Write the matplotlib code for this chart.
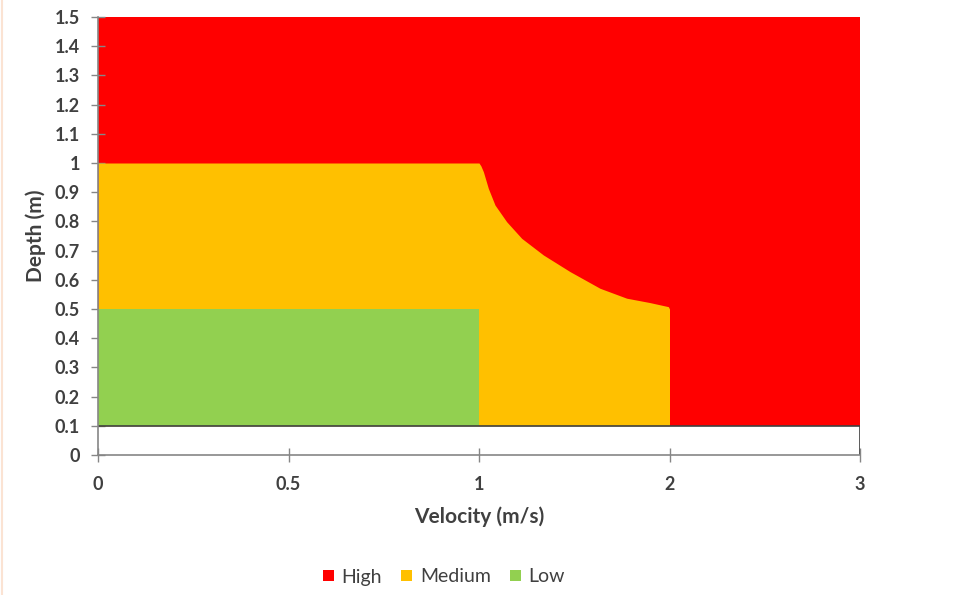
import numpy as np
import matplotlib
matplotlib.use("Agg")
import matplotlib.pyplot as plt
import matplotlib.patches as mpatches
from matplotlib.lines import Line2D

# ── Data ──────────────────────────────────────────────────────────────────────
velocity_ticks = [0, 0.5, 1, 2, 3]
depth_ticks = [round(0.1 * i, 1) for i in range(16)]

base_depth = 0.1

high_v = [0, 3]
high_top = [1.5, 1.5]

medium_v = [0, 1, 1.010, 1.023, 1.049, 1.084, 1.145, 1.224, 1.338,
            1.478, 1.635, 1.775, 1.897, 1.994, 2]
medium_top = [1.0, 1.0, 0.990, 0.970, 0.913, 0.856, 0.799, 0.742, 0.685,
              0.628, 0.571, 0.537, 0.522, 0.508, 0.5]

low_v = [0, 1]
low_top = [0.5, 0.5]

COLOURS = {"High": "#FF0000", "Medium": "#FFC000", "Low": "#92D050"}
TEXT = "#404040"
AXIS = "#868686"
FONT = "Lato"

# x axis is spaced evenly between the labelled velocities (Excel-style)
tick_pos = np.arange(len(velocity_ticks))


def fwd(v):
    return np.interp(v, velocity_ticks, tick_pos)


def inv(p):
    return np.interp(p, tick_pos, velocity_ticks)


fig = plt.figure(figsize=(9.74, 5.95), dpi=100, facecolor="white")
ax = fig.add_axes([98 / 974, 140 / 595, 762 / 974, 438 / 595])
ax.set_xscale("function", functions=(fwd, inv))

ax.fill_between(high_v, base_depth, high_top, color=COLOURS["High"], linewidth=0, zorder=1)
ax.fill_between(medium_v, base_depth, medium_top, color=COLOURS["Medium"], linewidth=0, zorder=2)
ax.fill_between(low_v, base_depth, low_top, color=COLOURS["Low"], linewidth=0, zorder=3)

# outline of the empty band below 0.1 m
ax.plot([0, 3, 3], [base_depth, base_depth, 0], color="#404040", linewidth=1.2, zorder=4)

ax.set_xlim(0, 3)
ax.set_ylim(0, 1.5)
ax.set_xticks(velocity_ticks)
ax.set_xticklabels([f"{v:g}" for v in velocity_ticks])
ax.set_yticks(depth_ticks)
ax.set_yticklabels([f"{v:g}" for v in depth_ticks])
ax.minorticks_off()

for s in ("top", "right"):
    ax.spines[s].set_visible(False)
for s in ("left", "bottom"):
    ax.spines[s].set_color(AXIS)
    ax.spines[s].set_linewidth(1.2)
    ax.spines[s].set_zorder(5)

ax.tick_params(axis="both", direction="inout", length=10, width=1.0, color=AXIS,
               labelcolor=TEXT, labelsize=13)
ax.tick_params(axis="y", pad=8)
ax.tick_params(axis="x", pad=10)
for lab in ax.get_xticklabels() + ax.get_yticklabels():
    lab.set_fontfamily(FONT)
    lab.set_fontweight("bold")

ax.set_xlabel("Velocity (m/s)", fontsize=15, fontweight="bold", color=TEXT,
              family=FONT, labelpad=10)
ax.set_ylabel("Depth (m)", fontsize=15, fontweight="bold", color=TEXT,
              family=FONT, labelpad=6)

handles = [mpatches.Patch(facecolor=c, edgecolor="none", label=k) for k, c in COLOURS.items()]
fig.legend(handles=handles, loc="center", bbox_to_anchor=(444 / 974, 1 - 577 / 595),
           ncol=3, frameon=False, handlelength=0.55, handleheight=0.55,
           handletextpad=0.4, columnspacing=1.0,
           prop={"family": FONT, "size": 14}, labelcolor=TEXT)

# faint page edge on the left of the screenshot
fig.add_artist(Line2D([2 / 974, 2 / 974], [0, 1], color="#FBE3D3", linewidth=1.5,
                      transform=fig.transFigure))

fig.savefig("out.png", dpi=100, facecolor="white")
